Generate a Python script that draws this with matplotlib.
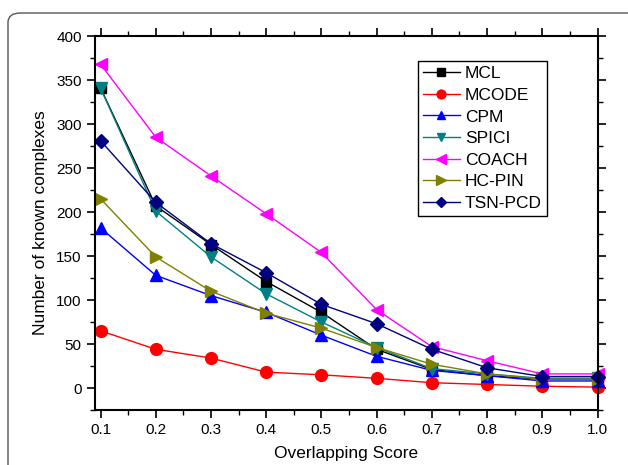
import matplotlib
matplotlib.use("Agg")
from matplotlib import pyplot as plt
from matplotlib.patches import FancyBboxPatch
from matplotlib.ticker import MultipleLocator

plt.rcParams['font.family'] = ['Liberation Sans', 'DejaVu Sans']

scores = [0.1, 0.2, 0.3, 0.4, 0.5, 0.6, 0.7, 0.8, 0.9, 1.0]
mcl = [341, 207, 163, 121, 86, 44, 21, 14, 10, 10]
mcode = [65, 44, 34, 18, 15, 11, 6, 4, 2, 1]
cpm = [182, 128, 105, 86, 60, 36, 20, 14, 8, 8]
spici = [341, 201, 149, 107, 75, 46, 22, 16, 11, 11]
coach = [368, 285, 241, 198, 154, 89, 47, 31, 16, 16]
hcpin = [215, 149, 110, 85, 68, 46, 27, 16, 10, 10]
tsnpcd = [281, 211, 164, 131, 95, 73, 44, 23, 13, 13]

names = ["MCL", "MCODE", "CPM", "SPICI", "COACH", "HC-PIN", "TSN-PCD"]
series = [mcl, mcode, cpm, spici, coach, hcpin, tsnpcd]
colors = ["black", "red", "blue", "#008080", "magenta", "#808000", "#000080"]
markers = ["s", "o", "^", "v", "<", ">", "D"]
msizes = [7, 8.5, 8.5, 8.5, 9, 9, 7]

fig = plt.figure(figsize=(6.28, 4.65), dpi=100)

# rounded frame of the journal figure
frame = FancyBboxPatch((8 / 628, -0.1), 1.2, 1 - 13 / 465 + 0.1,
                       boxstyle="round,pad=0,rounding_size=0.02",
                       transform=fig.transFigure, fill=False,
                       edgecolor="#555555", linewidth=1.0)
fig.patches.append(frame)

ax = fig.add_axes([95 / 628, 1 - 410 / 465, 502.5 / 628, 374 / 465])

for name, ys, c, m, ms in zip(names, series, colors, markers, msizes):
    ax.plot(scores, ys, color=c, marker=m, markersize=ms, linewidth=1.0,
            label=name, clip_on=False)

ax.set_xlim(0.09, 1.0)
ax.set_ylim(-25, 400)
ax.set_xticks(scores)
ax.set_xticklabels([f"{s:.1f}" for s in scores])
ax.xaxis.set_minor_locator(MultipleLocator(0.05))
ax.yaxis.set_major_locator(MultipleLocator(50))
ax.yaxis.set_minor_locator(MultipleLocator(25))
ax.set_yticks(range(0, 401, 50))

ax.tick_params(axis="both", which="major", direction="out", length=6,
               width=1.2, labelsize=11)
ax.tick_params(axis="both", which="minor", direction="out", length=3.5,
               width=1.0)
ax.tick_params(top=True, right=True, which="both")
for sp in ax.spines.values():
    sp.set_linewidth(1.5)

ax.set_xlabel("Overlapping Score", fontsize=12.5, labelpad=6)
ax.set_ylabel("Number of known complexes", fontsize=12.5, labelpad=6)

leg = ax.legend(loc="upper left", bbox_to_anchor=(418 / 628, 1 - 61 / 465),
                bbox_transform=fig.transFigure, fontsize=12.5,
                fancybox=False, framealpha=1, edgecolor="black",
                handlelength=2.1, borderpad=0.3, labelspacing=0.37,
                handletextpad=0.3, borderaxespad=0, markerscale=0.75)
leg.get_frame().set_linewidth(1.0)

fig.savefig("out.png", dpi=100)
